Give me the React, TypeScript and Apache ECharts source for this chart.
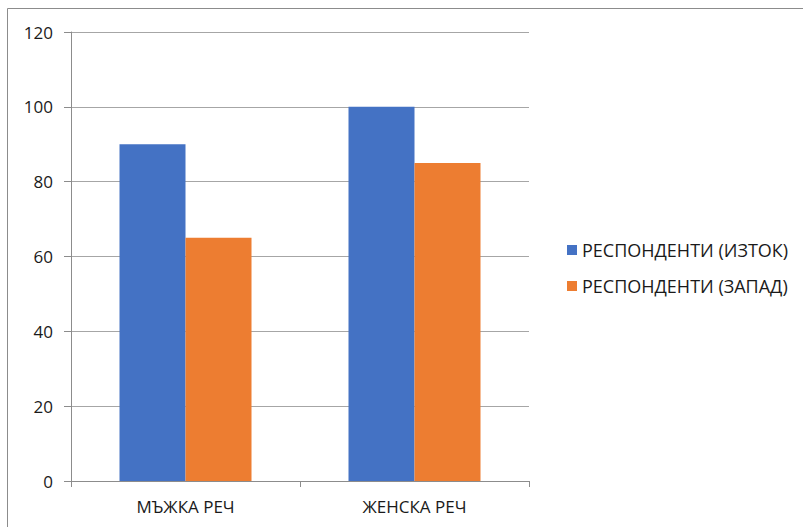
import React, { useEffect, useRef } from "react";
import * as echarts from "echarts";

const categories = ["МЪЖКА РЕЧ", "ЖЕНСКА РЕЧ"];
const seriesNames = ["РЕСПОНДЕНТИ (ИЗТОК)", "РЕСПОНДЕНТИ (ЗАПАД)"];
const eastValues = [90, 100];
const westValues = [65, 85];
const colors = ["#4472C4", "#ED7D31"];

const FONT = "'Open Sans', 'Liberation Sans', sans-serif";

export default function App() {
  const ref = useRef<HTMLDivElement>(null);
  useEffect(() => {
    if (!ref.current) return;
    const chart = echarts.init(ref.current, undefined, { renderer: "svg" });
    chart.setOption({
      animation: false,
      backgroundColor: "#ffffff",
      textStyle: { fontFamily: FONT },
      graphic: [
        {
          type: "rect",
          shape: { x: 7.5, y: 8.5, width: 900, height: 600 },
          style: { fill: "none", stroke: "#8c8c8c", lineWidth: 1 },
          silent: true,
        },
      ],
      grid: { left: 71, top: 32, right: 274, bottom: 46, containLabel: false },
      legend: {
        orient: "vertical",
        left: 562,
        top: 236,
        icon: "rect",
        itemWidth: 10,
        itemHeight: 10,
        itemGap: 18,
        textStyle: { fontSize: 18, color: "#1a1a1a", fontFamily: FONT },
        data: seriesNames,
      },
      xAxis: {
        type: "category",
        data: categories,
        axisLine: { lineStyle: { color: "#8c8c8c", width: 1 } },
        axisTick: { show: true, length: 6, lineStyle: { color: "#8c8c8c" } },
        axisLabel: { margin: 17, fontSize: 17, color: "#1a1a1a", fontFamily: FONT },
        splitLine: { show: false },
      },
      yAxis: {
        type: "value",
        min: 0,
        max: 120,
        interval: 20,
        axisLine: { show: true, lineStyle: { color: "#8c8c8c", width: 1 } },
        axisTick: { show: true, length: 7, lineStyle: { color: "#8c8c8c" } },
        axisLabel: { margin: 18, fontSize: 17, color: "#1a1a1a", fontFamily: FONT },
        splitLine: { show: true, lineStyle: { color: "#a6a6a6", width: 1 } },
      },
      series: [
        {
          name: seriesNames[0],
          type: "bar",
          data: eastValues,
          barWidth: 66,
          barGap: "0%",
          itemStyle: { color: colors[0] },
        },
        {
          name: seriesNames[1],
          type: "bar",
          data: westValues,
          barWidth: 66,
          barGap: "0%",
          itemStyle: { color: colors[1] },
        },
      ],
    });
    return () => chart.dispose();
  }, []);
  return (
    <div
      ref={ref}
      style={{ position: "absolute", left: 0, top: 0, width: 803, height: 527 }}
    />
  );
}
